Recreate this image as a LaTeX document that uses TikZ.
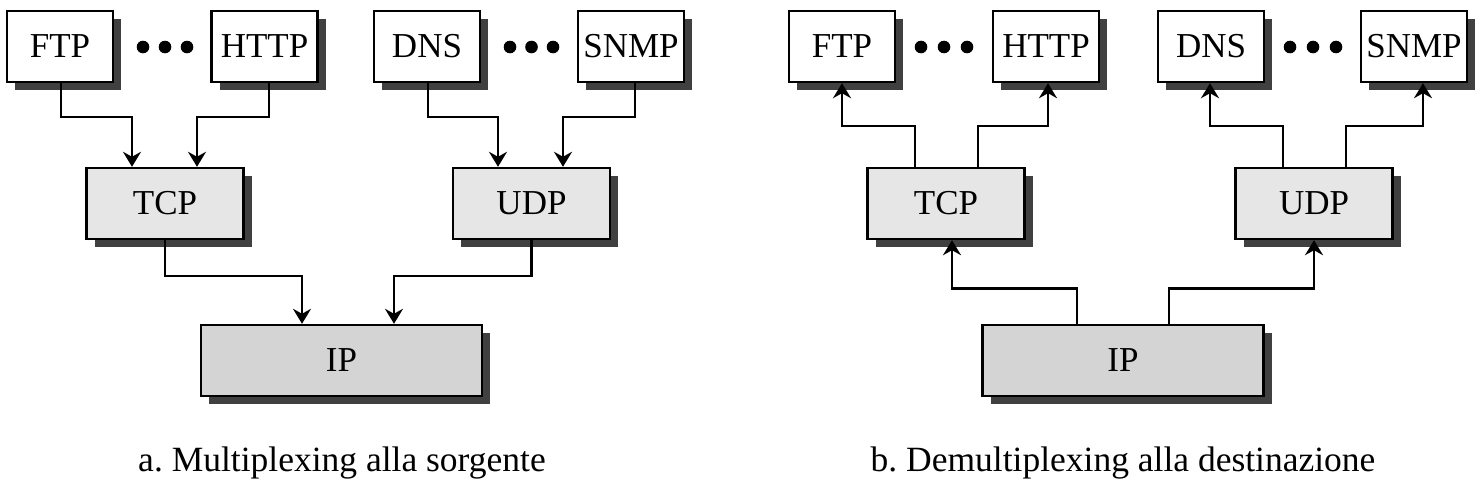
\documentclass[tikz,border=0pt]{standalone}
\usepackage{fontspec}
\setmainfont{Liberation Serif}
\usetikzlibrary{arrows.meta,shadows}
\definecolor{shd}{HTML}{404040}
\definecolor{midgray}{HTML}{E6E6E6}
\definecolor{darkfill}{HTML}{D4D4D4}
\frenchspacing
\begin{document}
\begin{tikzpicture}[x=1pt,y=-1pt,
  box/.style={draw=black,line width=2.4pt,minimum height=71pt,inner sep=0pt,
    font=\fontsize{35}{40}\selectfont,
    drop shadow={shadow xshift=8pt,shadow yshift=-8pt,fill=shd,opacity=1}},
  appbox/.style={box,fill=white,minimum width=106pt},
  trbox/.style={box,fill=midgray,minimum width=157pt},
  ipbox/.style={box,fill=darkfill,minimum width=281pt},
  arr/.style={line width=2.4pt,-{Stealth[length=15pt,width=18pt,inset=5pt]}},
  dotfill/.style={fill=black},
  captext/.style={anchor=base,font=\fontsize{35.5}{40}\selectfont}]
\useasboundingbox (0,0) rectangle (1480,482);
% ---- panel a ----
\node[appbox] (ftpA)  at (60,46.5)  {FTP};
\node[appbox] (httpA) at (264.5,46.5) {HTTP};
\node[appbox] (dnsA)  at (427,46.5) {DNS};
\node[appbox] (snmpA) at (631,46.5) {SNMP};
\node[trbox] (tcpA) at (165,203.5) {TCP};
\node[trbox] (udpA) at (531.5,203.5) {UDP};
\node[ipbox] (ipA) at (341.5,360.5) {IP};
\foreach \x in {143,165,187,510,531.5,553} \fill[dotfill] (\x,47) circle (6.3pt);
\draw[arr] ([xshift=1pt]ftpA.south) -- ++(0,34) -| ([xshift=-33pt]tcpA.north);
\draw[arr] ([xshift=4.5pt]httpA.south) -- ++(0,34) -| ([xshift=32pt]tcpA.north);
\draw[arr] ([xshift=1pt]dnsA.south) -- ++(0,34) -| ([xshift=-33.5pt]udpA.north);
\draw[arr] ([xshift=4pt]snmpA.south) -- ++(0,34) -| ([xshift=31.5pt]udpA.north);
\draw[arr] (tcpA.south) -- ++(0,36) -| ([xshift=-39.5pt]ipA.north);
\draw[arr] (udpA.south) -- ++(0,36) -| ([xshift=52.5pt]ipA.north);
\node[captext] (capA) at (342,471) {a. Multiplexing alla sorgente};
% ---- panel b ----
\node[appbox] (ftpB)  at (842,46.5)  {FTP};
\node[appbox] (httpB) at (1046,46.5) {HTTP};
\node[appbox] (dnsB)  at (1211,46.5) {DNS};
\node[appbox] (snmpB) at (1414,46.5) {SNMP};
\node[trbox] (tcpB) at (946,203.5) {TCP};
\node[trbox] (udpB) at (1314,203.5) {UDP};
\node[ipbox] (ipB) at (1123,360.5) {IP};
\foreach \x in {921,944,967,1290,1313,1336} \fill[dotfill] (\x,47) circle (6.3pt);
\draw[arr] ([xshift=-31pt]tcpB.north) -- ++(0,-41) -| (ftpB.south);
\draw[arr] ([xshift=32pt]tcpB.north) -- ++(0,-41) -| ([xshift=2pt]httpB.south);
\draw[arr] ([xshift=-31pt]udpB.north) -- ++(0,-41) -| ([xshift=-1pt]dnsB.south);
\draw[arr] ([xshift=32pt]udpB.north) -- ++(0,-41) -| ([xshift=9pt]snmpB.south);
\draw[arr] ([xshift=-46pt]ipB.north) -- ++(0,-35.5) -| ([xshift=6pt]tcpB.south);
\draw[arr] ([xshift=46pt]ipB.north) -- ++(0,-35.5) -| (udpB.south);
\node[captext] (capB) at (1123,471) {b. Demultiplexing alla destinazione};
\end{tikzpicture}
\end{document}
